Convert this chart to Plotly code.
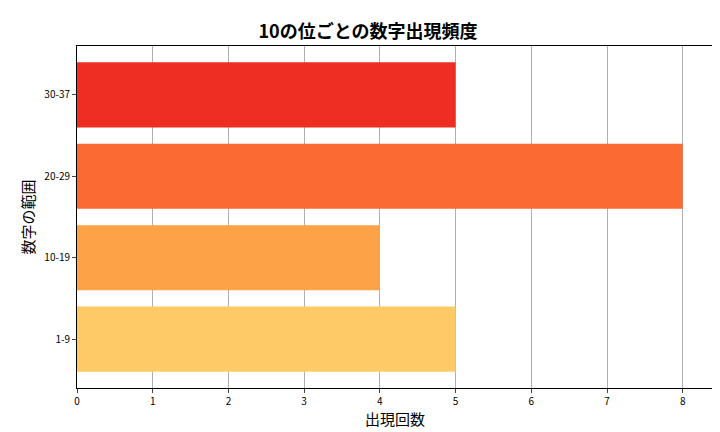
import plotly.graph_objects as go

categories = ["1-9", "10-19", "20-29", "30-37"]
counts = [5, 4, 8, 5]
colors = ["#FDCA66", "#FDA246", "#FC6A33", "#EE2E22"]

fig = go.Figure(go.Bar(x=counts, y=categories, orientation="h", width=0.8,
                       marker=dict(color=colors, line=dict(width=0))))
font = "Noto Sans CJK JP"
fig.update_layout(
    width=720, height=432, margin=dict(l=69, r=15, t=38, b=52, autoexpand=False),
    plot_bgcolor="white", paper_bgcolor="white",
    font=dict(family=font, color="black", size=10),
    title=dict(text="<b>10の位ごとの数字出現頻度</b>", x=0.5, xanchor="center",
               y=0.945, yanchor="middle", font=dict(size=18, family=font)),
    showlegend=False,
)
fig.update_xaxes(range=[0, 8.4], dtick=1, showgrid=True, gridcolor="#B0B0B0", gridwidth=1,
                 showline=True, linecolor="black", mirror=True, ticks="outside", ticklen=4,
                 automargin=False,
                 title=dict(text="出現回数", font=dict(size=15), standoff=6), zeroline=False)
fig.update_yaxes(range=[-0.6, 3.6], showgrid=False, showline=True, linecolor="black", mirror=True,
                 ticks="outside", ticklen=4, categoryorder="array", categoryarray=categories,
                 automargin=False,
                 title=dict(text="数字の範囲", font=dict(size=15), standoff=6))
fig.write_html("out.html")
